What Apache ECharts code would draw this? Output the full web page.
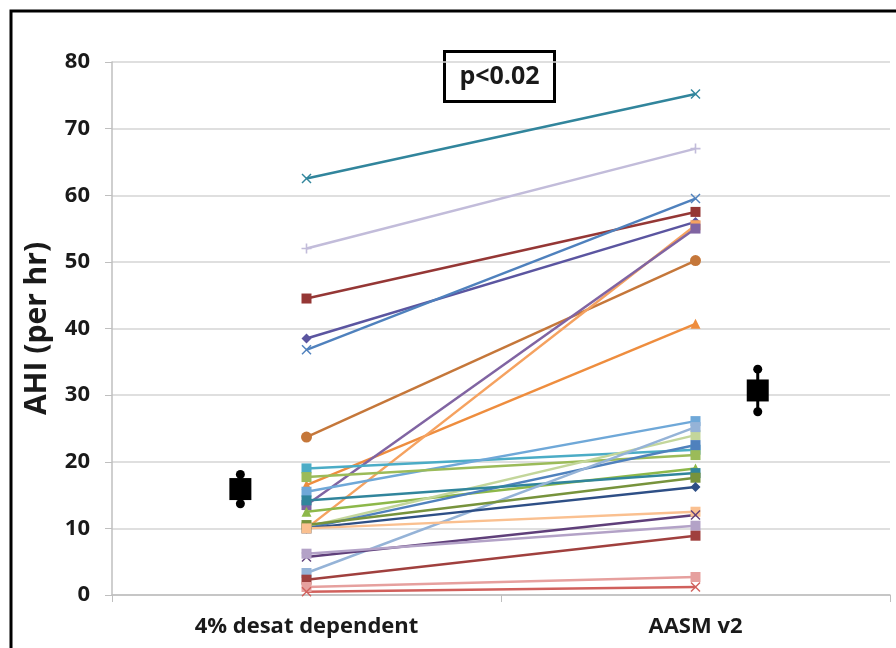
<!DOCTYPE html>
<html>
<head>
<meta charset="utf-8">
<script src="https://cdn.jsdelivr.net/npm/echarts@6/dist/echarts.min.js"></script>
<style>
  html, body { margin: 0; padding: 0; background: #fff; }
  #chart { width: 896px; height: 648px; }
</style>
</head>
<body>
<div id="chart"></div>
<script>
  // categories
  const categories = ['4% desat dependent', 'AASM v2'];

  // AHI per patient
  const desatValues = [62.5, 52.0, 44.5, 38.5, 36.8, 23.7, 16.5, 10.0, 13.5, 19.0, 15.5, 17.7, 12.5, 10.2, 10.0, 14.2, 3.3, 10.5, 10.0, 10.0, 5.7, 6.2, 2.3, 1.2, 0.5];
  const aasmValues  = [75.2, 67.0, 57.5, 56.0, 59.5, 50.2, 40.7, 55.5, 55.0, 21.8, 26.1, 21.0, 19.0, 24.0, 22.5, 18.3, 25.2, 17.6, 16.2, 12.5, 12.0, 10.4, 8.9, 2.7, 1.2];

  // group means with error bars
  const meanValues = [15.9, 30.7];
  const errValues = [2.2, 3.2];

  const X_MARK = 'path://M0,1L1,0L5,4L9,0L10,1L6,5L10,9L9,10L5,6L1,10L0,9L4,5Z';
  const PLUS = 'path://M4.2,0H5.8V4.2H10V5.8H5.8V10H4.2V5.8H0V4.2H4.2Z';
  const DASH = 'path://M0,4H10V6H0Z';

  const lineColors = ['#31859C', '#C2BCDA', '#953735', '#5B55A0', '#4F81BD', '#C5773A', '#EE8D3E', '#F5A260',
    '#8064A2', '#4BACC6', '#6FA8D8', '#9BBB59', '#8DB84A', '#C3D69B', '#4F81BD', '#31859C', '#95B3D7', '#77933C',
    '#2E4F86', '#FAC090', '#5F3F7A', '#B3A2C7', '#A0403E', '#E6A09E', '#D0605C'];
  const lineSymbols = [X_MARK, PLUS, 'rect', 'diamond', X_MARK, 'circle', 'triangle', DASH,
    DASH, DASH, 'rect', DASH, 'triangle', DASH, DASH, 'rect', DASH, DASH,
    'diamond', 'rect', X_MARK, DASH, DASH, 'rect', X_MARK];

  const chart = echarts.init(document.getElementById('chart'));

  const series = desatValues.map(function (v, i) {
    return {
      type: 'line',
      data: [v, aasmValues[i]],
      symbol: lineSymbols[i],
      symbolSize: lineSymbols[i] === 'circle' ? 11 : 10,
      showAllSymbol: true,
      lineStyle: { color: lineColors[i], width: 2.5 },
      itemStyle: { color: lineColors[i] },
      z: 3,
      animation: false
    };
  });

  const meanX = [0.33, 1.66];
  meanValues.forEach(function (m, i) {
    series.push({
      type: 'line',
      xAxisIndex: 1,
      data: [[meanX[i], m - errValues[i]], [meanX[i], m + errValues[i]]],
      symbol: 'circle',
      symbolSize: 9,
      lineStyle: { color: '#000', width: 3 },
      itemStyle: { color: '#000', opacity: 1 },
      z: 4,
      animation: false
    });
    series.push({
      type: 'scatter',
      xAxisIndex: 1,
      data: [[meanX[i], m]],
      symbol: 'rect',
      symbolSize: 22,
      itemStyle: { color: '#000', opacity: 1 },
      z: 5,
      animation: false
    });
  });

  const option = {
    backgroundColor: '#fff',
    animation: false,
    grid: { left: 112, right: 6, top: 62, bottom: 53 },
    xAxis: [{
      type: 'category',
      data: categories,
      boundaryGap: true,
      axisLine: { lineStyle: { color: '#BFBFBF', width: 1.5 } },
      axisTick: { show: true, length: 7, lineStyle: { color: '#BFBFBF' } },
      axisLabel: {
        color: '#1a1a1a', fontSize: 22, fontWeight: 'bold',
        fontFamily: 'Open Sans', margin: 21
      },
      splitLine: { show: false }
    }, {
      type: 'value',
      min: 0,
      max: 2,
      show: false
    }],
    yAxis: {
      type: 'value',
      min: 0,
      max: 80,
      interval: 10,
      name: 'AHI (per hr)',
      nameLocation: 'middle',
      nameRotate: 90,
      nameGap: 60,
      nameTextStyle: { color: '#1a1a1a', fontSize: 30, fontWeight: 'bold', fontFamily: 'Open Sans' },
      axisLine: { show: true, lineStyle: { color: '#BFBFBF', width: 1.5 } },
      axisTick: { show: true, length: 7, lineStyle: { color: '#BFBFBF' } },
      axisLabel: {
        color: '#1a1a1a', fontSize: 22, fontWeight: 'bold',
        fontFamily: 'Open Sans', margin: 22
      },
      splitLine: { lineStyle: { color: '#D4D4D4', width: 1.5 } }
    },
    graphic: [{
      type: 'rect',
      shape: { x: 11, y: 11, width: 900, height: 650 },
      style: { fill: 'none', stroke: '#000', lineWidth: 3 },
      z: 10
    }, {
      type: 'group',
      left: 443,
      top: 50,
      z: 10,
      children: [{
        type: 'rect',
        shape: { x: 0, y: 0, width: 110, height: 50 },
        style: { fill: '#fff', stroke: '#000', lineWidth: 3 }
      }, {
        type: 'text',
        x: 55,
        y: 25,
        style: {
          text: 'p<0.02', fill: '#1a1a1a', fontSize: 25, fontWeight: 'bold',
          fontFamily: 'Open Sans', textAlign: 'center', textVerticalAlign: 'middle'
        }
      }]
    }],
    series: series
  };

  chart.setOption(option);
</script>
</body>
</html>
